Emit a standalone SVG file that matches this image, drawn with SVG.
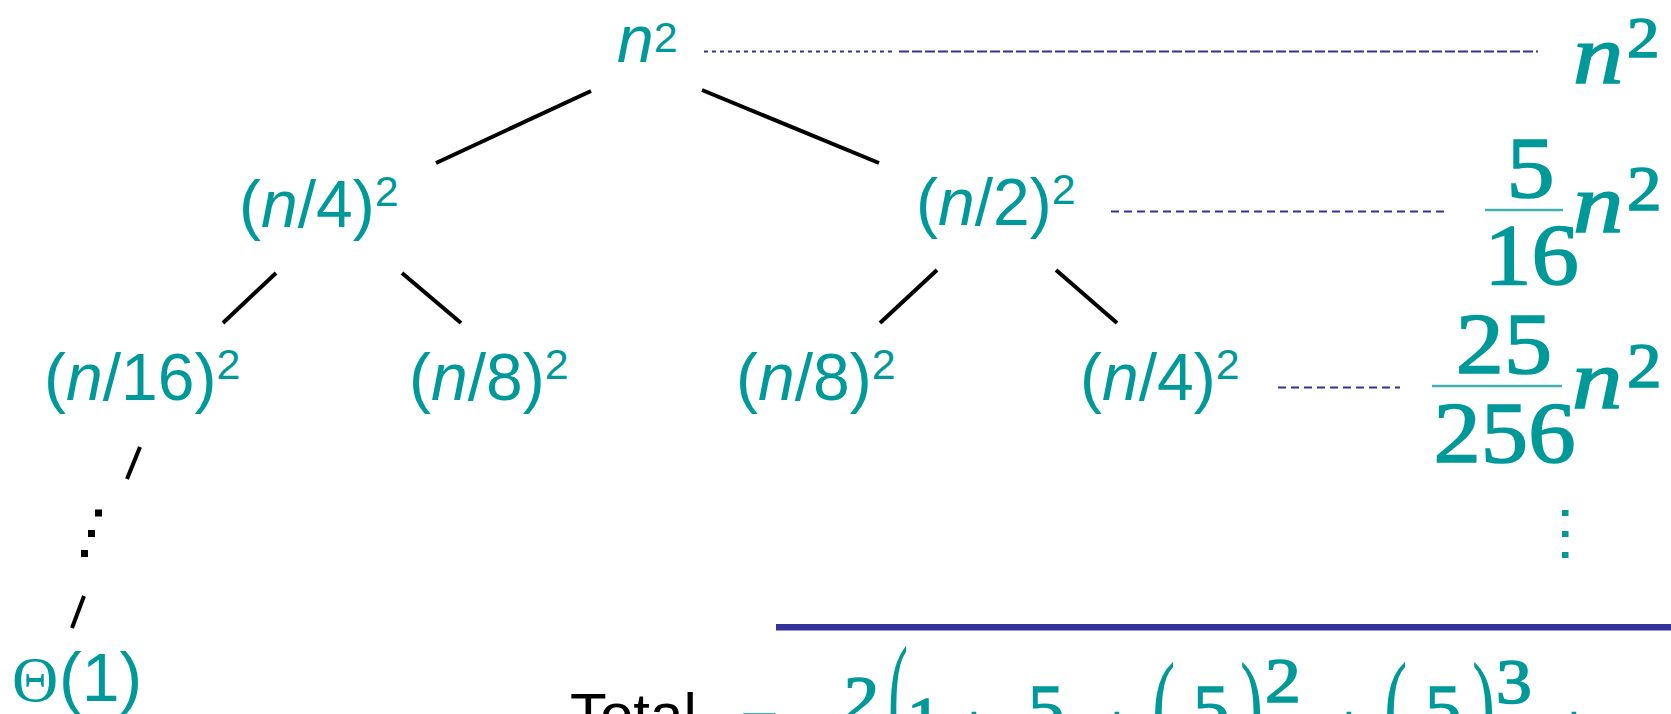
<svg xmlns="http://www.w3.org/2000/svg" width="1671" height="714" viewBox="0 0 1671 714">
<style>
.lbl{font-family:"Liberation Sans",Arial,sans-serif;font-size:66px;fill:#009999}
.sup{font-size:43px}
.it{font-style:italic}
.ser{font-family:"Liberation Serif","Times New Roman",serif;fill:#009999}
.hv{stroke:#009999;stroke-width:1.6}
.big{font-size:86px}
.edge{stroke:#000;stroke-width:4;fill:none}
.dash{stroke:#333399;stroke-width:2;fill:none}
.bar{stroke:#40b0b0;stroke-width:2.5}
.dot{fill:#000}
</style>
<rect width="1671" height="714" fill="#fff"/>
<g id="connectors">
<line class="edge" x1="591" y1="91" x2="436" y2="163"/>
<line class="edge" x1="702" y1="90" x2="879" y2="163"/>
<line class="edge" x1="276" y1="273" x2="223" y2="323"/>
<line class="edge" x1="402" y1="273" x2="461" y2="323"/>
<line class="edge" x1="937" y1="270" x2="880" y2="323"/>
<line class="edge" x1="1056" y1="270" x2="1117" y2="323"/>
<line class="edge" x1="140" y1="447" x2="127" y2="479"/>
<rect class="dot" x="95" y="509.5" width="7" height="7"/>
<rect class="dot" x="88" y="530" width="7" height="7"/>
<rect class="dot" x="81" y="550" width="7" height="7"/>
<line class="edge" x1="84" y1="596" x2="72" y2="628"/>
<line class="dash" x1="704" y1="51.5" x2="895" y2="51.5" stroke-dasharray="4 4"/>
<line class="dash" x1="899" y1="51.5" x2="1538" y2="51.5" stroke-dasharray="10 3"/>
<line class="dash" x1="1111" y1="211.5" x2="1448" y2="211.5" stroke-dasharray="8 5"/>
<line class="dash" x1="1278" y1="387.5" x2="1400" y2="387.5" stroke-dasharray="8 5"/>
</g>
<g id="root"><text class="lbl" x="617" y="62" font-size="68"><tspan class="it">n</tspan><tspan class="sup" dy="-10" font-size="46">2</tspan></text></g>
<g id="n4"><text class="lbl" x="239" y="227">(<tspan class="it">n</tspan>/4)<tspan class="sup" dy="-21">2</tspan></text></g>
<g id="n2"><text class="lbl" x="916" y="225">(<tspan class="it">n</tspan>/2)<tspan class="sup" dy="-21">2</tspan></text></g>
<g id="n16"><text class="lbl" x="44" y="400">(<tspan class="it">n</tspan>/16)<tspan class="sup" dy="-21">2</tspan></text></g>
<g id="n8a"><text class="lbl" x="409" y="400">(<tspan class="it">n</tspan>/8)<tspan class="sup" dy="-21">2</tspan></text></g>
<g id="n8b"><text class="lbl" x="736" y="400">(<tspan class="it">n</tspan>/8)<tspan class="sup" dy="-21">2</tspan></text></g>
<g id="n4b"><text class="lbl" x="1080" y="400">(<tspan class="it">n</tspan>/4)<tspan class="sup" dy="-21">2</tspan></text></g>
<g id="leaf"><text class="lbl" y="701"><tspan font-family="Liberation Serif, Times New Roman, serif" x="12" font-size="64">Θ</tspan><tspan x="59" font-size="68">(1)</tspan></text></g>
<g id="sum0">
<text class="ser hv it" font-size="84" transform="translate(1573 83) scale(1.2 1)">n</text>
<text class="ser hv" font-size="58" transform="translate(1627 57) scale(1.12 1)">2</text>
</g>
<g id="sum1">
<text class="ser hv big" text-anchor="middle" transform="translate(1530.5 197) scale(1.12 1)">5</text>
<line class="bar" x1="1485" y1="210" x2="1563" y2="210"/>
<text class="ser hv big" text-anchor="middle" transform="translate(1531.5 284) scale(1.1 1)">16</text>
<text class="ser hv it" font-size="84" transform="translate(1573 232) scale(1.2 1)">n</text>
<text class="ser hv" font-size="64" transform="translate(1627 210) scale(1.08 1)">2</text>
</g>
<g id="sum2">
<text class="ser hv big" text-anchor="middle" transform="translate(1504 373) scale(1.12 1)">25</text>
<line class="bar" x1="1432" y1="386" x2="1562" y2="386"/>
<text class="ser hv big" text-anchor="middle" transform="translate(1504.5 462) scale(1.1 1)">256</text>
<text class="ser hv it" font-size="84" transform="translate(1572 408) scale(1.2 1)">n</text>
<text class="ser hv" font-size="64" transform="translate(1627 387) scale(1.08 1)">2</text>
</g>
<g id="vdots" fill="#009999">
<rect x="1562" y="510" width="6.5" height="6"/>
<rect x="1562" y="531" width="6.5" height="6"/>
<rect x="1562" y="552" width="6.5" height="6"/>
</g>
<g id="total">
<rect x="776" y="624" width="895" height="6.5" fill="#333399"/>
<text x="570" y="734.7" font-family="Liberation Sans, Arial, sans-serif" font-size="60" fill="#000">Total</text>
<text class="lbl" x="740" y="746" font-size="64">=</text>
<text class="ser hv" font-size="64" transform="translate(844 720) scale(1.1 1)">2</text>
<text class="ser" font-size="60" transform="translate(888 750) scale(1 2.5)">(</text>
<text class="ser hv" font-size="62" transform="translate(907 739) scale(1.1 1)">1</text>
<text class="ser hv" x="974" y="746" font-size="60" text-anchor="middle">+</text>
<text class="ser hv" font-size="64" text-anchor="middle" transform="translate(1046 729) scale(1.12 1)">5</text>
<text class="ser hv" x="1117" y="746" font-size="60" text-anchor="middle">+</text>
<text class="ser" font-size="70" transform="translate(1152 750) scale(1 1.8)">(</text>
<text class="ser hv" font-size="64" text-anchor="middle" transform="translate(1211 729) scale(1.12 1)">5</text>
<text class="ser" font-size="70" transform="translate(1240 750) scale(1 1.8)">)</text>
<text class="ser hv" font-size="64" transform="translate(1265 702) scale(1.12 1)">2</text>
<text class="ser hv" x="1349" y="746" font-size="60" text-anchor="middle">+</text>
<text class="ser" font-size="70" transform="translate(1384 750) scale(1 1.8)">(</text>
<text class="ser hv" font-size="64" text-anchor="middle" transform="translate(1443 729) scale(1.12 1)">5</text>
<text class="ser" font-size="70" transform="translate(1472 750) scale(1 1.8)">)</text>
<text class="ser hv" font-size="64" transform="translate(1496 703) scale(1.12 1)">3</text>
<text class="ser hv" x="1574" y="746" font-size="60" text-anchor="middle">+</text>
</g>
</svg>
